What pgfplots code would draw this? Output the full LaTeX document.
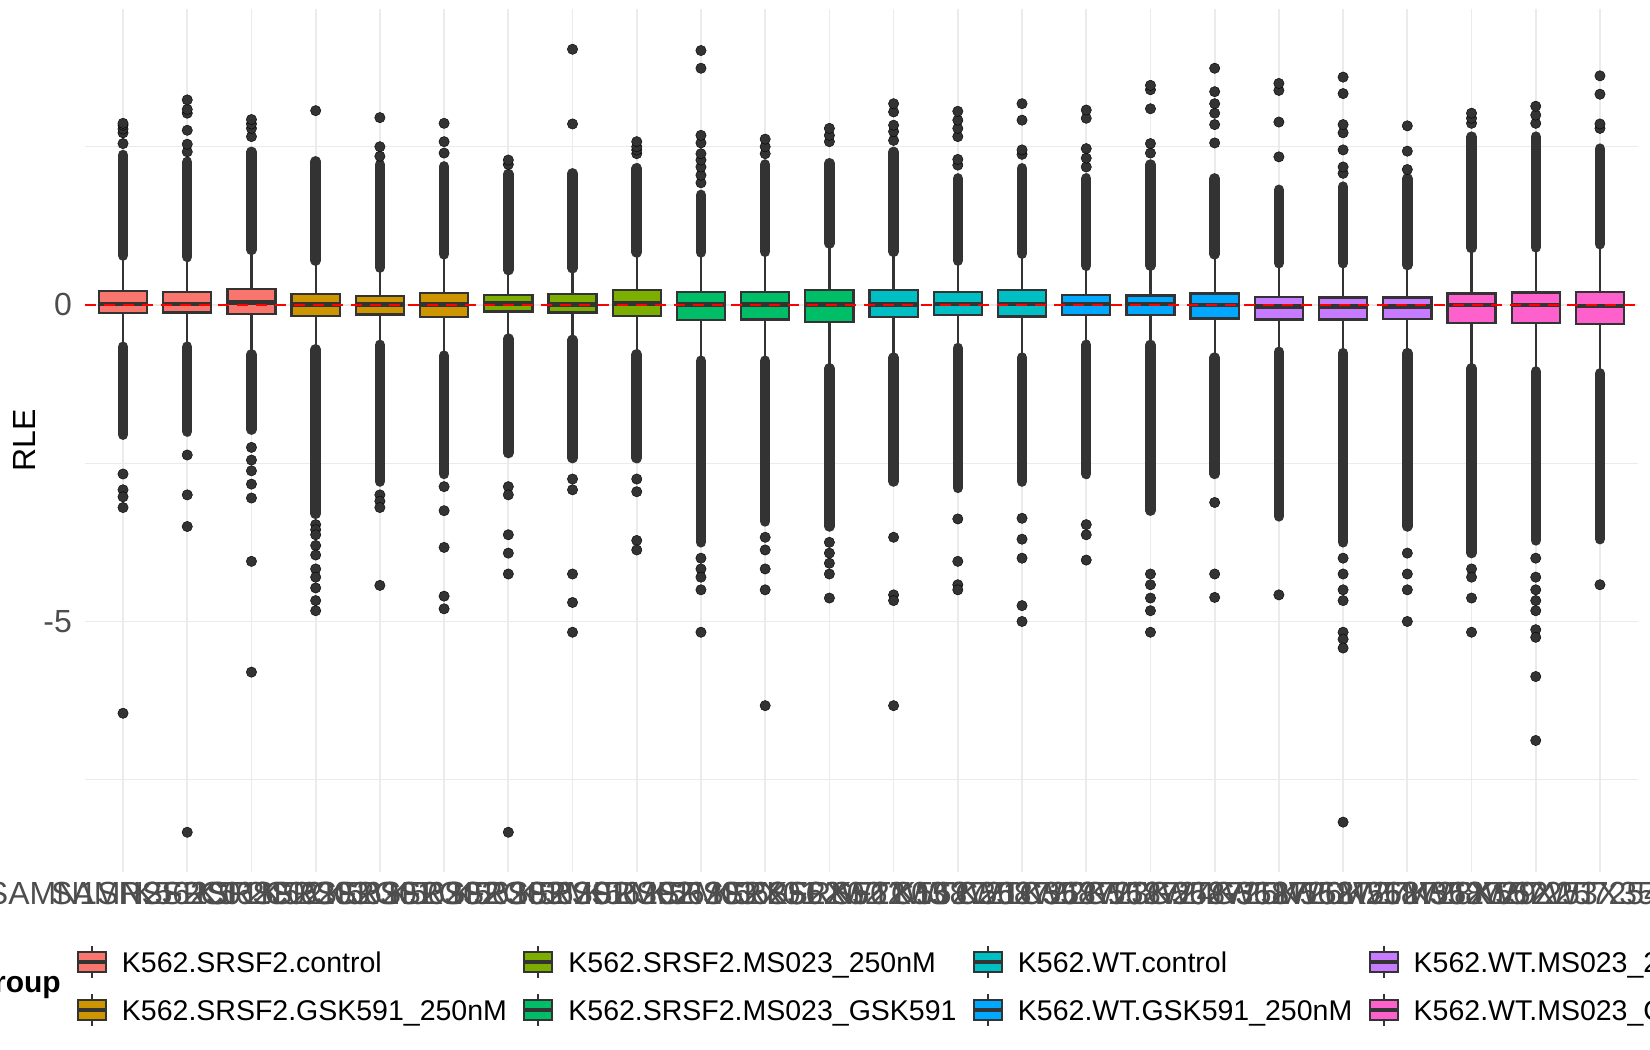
\documentclass[border=0pt]{standalone}
\usepackage{fontspec}
\setmainfont{Liberation Sans}
\usepackage{pgfplots}
\pgfplotsset{compat=1.18}
\definecolor{c333}{HTML}{333333}
\definecolor{cA}{HTML}{F8766D}
\definecolor{cB}{HTML}{CD9600}
\definecolor{cC}{HTML}{7CAE00}
\definecolor{cD}{HTML}{00BE67}
\definecolor{cE}{HTML}{00BFC4}
\definecolor{cF}{HTML}{00A9FF}
\definecolor{cG}{HTML}{C77CFF}
\definecolor{cH}{HTML}{FF61CC}
\definecolor{cgrid}{HTML}{EBEBEB}
\definecolor{cgrey}{HTML}{4D4D4D}
% box: position, left edge, right edge, lower whisker, Q1, median, Q3, upper whisker, colour
\newcommand{\bx}[9]{%
  \addplot[forget plot, draw=c333, line width=2.3bp] coordinates {(#1,#4) (#1,#8)};
  \addplot[forget plot, draw=c333, fill=#9, line width=2.3bp] coordinates {(#2,#5) (#3,#5) (#3,#7) (#2,#7)} -- cycle;
  \addplot[forget plot, draw=c333, line width=4.6bp] coordinates {(#2,#6) (#3,#6)};
}
% dense run of outliers: position, from, to
\newcommand{\dn}[3]{\addplot[forget plot, draw=c333, line width=10.5bp, line cap=round] coordinates {(#1,#2) (#1,#3)};}
\pgfplotsset{keybox/.style={legend image code/.code={
  \draw[draw=c333, line width=2bp] (14bp,-6bp) -- (14bp,26bp);
  \draw[draw=c333, fill=#1, line width=2bp] (0bp,0bp) rectangle (28bp,20bp);
  \draw[draw=c333, line width=3.5bp] (0bp,10bp) -- (28bp,10bp);
  \path (44bp,0bp);
}}}
\begin{document}
\begin{tikzpicture}
\begin{axis}[
  at={(84.5bp,178.5bp)}, anchor=south west,
  width=1554bp, height=862.1bp, scale only axis,
  xmin=0.4, xmax=24.6, ymin=-8.95, ymax=4.67,
  axis line style={draw=none},
  xtick={1,...,24},
  xticklabels={SAMN1SRSF2C01,SAMN2SRSF2C02,K562SRSF2C03,K562SRSF2G01,K562SRSF2G02,K562SRSF2G03,K562SRSF2M01,K562SRSF2M02,K562SRSF2M03,K562SRSF2X01,K562SRSF2X02,K562SRSF2X03,K562WTC158721,K562WTC258722,K562WTC358723,K562WTG158724,K562WTG258725,K562WTG358726,K562WTM158727,K562WTM258728,K562WTM358729,K562WTX157253,K562WTX257254,K562WTX357255},
  ytick={-5,0}, yticklabels={{-5},{0}},
  minor ytick={-7.5,-2.5,2.5},
  xmajorgrids, ymajorgrids, yminorgrids,
  major grid style={draw=cgrid, line width=1.7bp},
  minor grid style={draw=cgrid, line width=0.9bp},
  major tick length=0pt, minor tick length=0pt,
  ticklabel style={font=\fontsize{32bp}{38bp}\selectfont, text=cgrey, inner sep=0pt},
  xticklabel style={anchor=north, yshift=-10.5bp},
  yticklabel style={anchor=east, xshift=-12.5bp},
  ylabel={RLE},
  ylabel style={font=\fontsize{32bp}{38bp}\selectfont, inner sep=0pt, at={(axis description cs:-0.03185,0.5)}, anchor=base},
  legend columns=4,
  legend style={draw=none, fill=none, inner sep=0pt, outer sep=0pt,
    at={(-0.00547,-0.0841)}, anchor=north west,
    font=\fontsize{28.5bp}{34bp}\selectfont,
    nodes={inner sep=0pt, text height=28bp, text depth=20bp},
    cells={anchor=base west}, row sep=0pt, column sep=0pt,
    /tikz/every even column/.append style={column sep=15.5bp}},
]
% ---- dense outlier runs (upper, lower) ----
\dn{1}{0.78}{2.37}   \dn{1}{-0.66}{-2.05}
\dn{2}{0.76}{2.26}   \dn{2}{-0.66}{-2.00}
\dn{3}{0.87}{2.42}   \dn{3}{-0.78}{-1.97}
\dn{4}{0.70}{2.27}   \dn{4}{-0.70}{-3.30}
\dn{5}{0.59}{2.22}   \dn{5}{-0.63}{-2.79}
\dn{6}{0.80}{2.19}   \dn{6}{-0.80}{-2.67}
\dn{7}{0.55}{2.07}   \dn{7}{-0.53}{-2.34}
\dn{8}{0.58}{2.08}   \dn{8}{-0.55}{-2.42}
\dn{9}{0.83}{2.16}   \dn{9}{-0.78}{-2.42}
\dn{10}{0.83}{1.74}  \dn{10}{-0.88}{-3.75}
\dn{11}{0.84}{2.22}  \dn{11}{-0.88}{-3.42}
\dn{12}{0.97}{2.24}  \dn{12}{-1.00}{-3.50}
\dn{13}{0.84}{2.42}  \dn{13}{-0.83}{-2.79}
\dn{14}{0.70}{2.00}  \dn{14}{-0.68}{-2.89}
\dn{15}{0.81}{2.16}  \dn{15}{-0.83}{-2.79}
\dn{16}{0.62}{2.00}  \dn{16}{-0.63}{-2.67}
\dn{17}{0.62}{2.22}  \dn{17}{-0.63}{-3.25}
\dn{18}{0.80}{2.00}  \dn{18}{-0.83}{-2.67}
\dn{19}{0.66}{1.82}  \dn{19}{-0.74}{-3.34}
\dn{20}{0.66}{1.87}  \dn{20}{-0.76}{-3.75}
\dn{21}{0.63}{2.00}  \dn{21}{-0.76}{-3.50}
\dn{22}{0.90}{2.66}  \dn{22}{-1.00}{-3.92}
\dn{23}{0.91}{2.66}  \dn{23}{-1.05}{-3.72}
\dn{24}{0.96}{2.47}  \dn{24}{-1.08}{-3.70}
% ---- single outliers ----
\addplot[forget plot, only marks, mark=*, mark size=5.2bp, mark options={draw=none, fill=c333}] coordinates {
(1,2.55) (1,2.72) (1,2.78) (1,2.84) (1,2.87) (1,-2.67) (1,-2.92) (1,-3.03) (1,-3.2) (1,-6.45)
(2,2.42) (2,2.54) (2,2.76) (2,3.03) (2,3.09) (2,3.24) (2,-2.37) (2,-3.0) (2,-3.5) (2,-8.33)
(3,2.66) (3,2.79) (3,2.86) (3,2.93) (3,-2.25) (3,-2.45) (3,-2.62) (3,-2.83) (3,-3.05) (3,-4.05) (3,-5.8)
(4,3.07) (4,-3.47) (4,-3.55) (4,-3.63) (4,-3.8) (4,-3.95) (4,-4.17) (4,-4.3) (4,-4.47) (4,-4.67) (4,-4.83)
(5,2.35) (5,2.5) (5,2.96) (5,-3.0) (5,-3.1) (5,-3.2) (5,-4.43)
(6,2.4) (6,2.58) (6,2.87) (6,-2.87) (6,-3.25) (6,-3.83) (6,-4.6) (6,-4.8)
(7,2.22) (7,2.29) (7,-2.87) (7,-3.0) (7,-3.63) (7,-3.92) (7,-4.25) (7,-8.33)
(8,2.86) (8,4.04) (8,-2.75) (8,-2.92) (8,-4.25) (8,-4.7) (8,-5.17)
(9,2.39) (9,2.45) (9,2.5) (9,2.58) (9,-2.75) (9,-2.95) (9,-3.72) (9,-3.87)
(10,1.93) (10,2.05) (10,2.18) (10,2.29) (10,2.39) (10,2.56) (10,2.68) (10,3.74) (10,4.02) (10,-4.0) (10,-4.17) (10,-4.3) (10,-4.5) (10,-5.17)
(11,2.39) (11,2.5) (11,2.62) (11,-3.67) (11,-3.87) (11,-4.17) (11,-4.5) (11,-6.33)
(12,2.58) (12,2.68) (12,2.79) (12,-3.75) (12,-3.92) (12,-4.08) (12,-4.25) (12,-4.63)
(13,2.6) (13,2.74) (13,2.84) (13,3.05) (13,3.18) (13,-3.67) (13,-4.58) (13,-4.67) (13,-6.33)
(14,2.21) (14,2.3) (14,2.66) (14,2.79) (14,2.92) (14,3.06) (14,-3.38) (14,-4.05) (14,-4.42) (14,-4.5)
(15,2.38) (15,2.45) (15,2.92) (15,3.18) (15,-3.37) (15,-3.7) (15,-4.0) (15,-4.75) (15,-5.0)
(16,2.18) (16,2.32) (16,2.47) (16,2.95) (16,3.08) (16,-3.47) (16,-3.63) (16,-4.03)
(17,2.4) (17,2.55) (17,3.1) (17,3.4) (17,3.47) (17,-4.25) (17,-4.42) (17,-4.63) (17,-4.83) (17,-5.17)
(18,2.56) (18,2.85) (18,3.03) (18,3.18) (18,3.37) (18,3.74) (18,-3.12) (18,-4.25) (18,-4.62)
(19,2.34) (19,2.89) (19,3.39) (19,3.5) (19,-4.58)
(20,2.08) (20,2.18) (20,2.45) (20,2.72) (20,2.85) (20,3.34) (20,3.6) (20,-4.0) (20,-4.25) (20,-4.5) (20,-4.67) (20,-5.17) (20,-5.28) (20,-5.42) (20,-8.17)
(21,2.14) (21,2.43) (21,2.83) (21,-3.92) (21,-4.25) (21,-4.5) (21,-5.0)
(22,2.87) (22,2.95) (22,3.03) (22,-4.17) (22,-4.3) (22,-4.63) (22,-5.17)
(23,2.87) (23,3.0) (23,3.14) (23,-4.0) (23,-4.3) (23,-4.5) (23,-4.67) (23,-4.83) (23,-5.13) (23,-5.25) (23,-5.87) (23,-6.88)
(24,2.79) (24,2.86) (24,3.33) (24,3.62) (24,-4.42)
};
% ---- boxes: position, left, right, lower whisker, Q1, median, Q3, upper whisker ----
\bx{1}{0.625}{1.375}{-0.62}{-0.13}{0.016}{0.22}{0.74}{cA}
\bx{2}{1.625}{2.375}{-0.62}{-0.12}{0.016}{0.21}{0.72}{cA}
\bx{3}{2.625}{3.375}{-0.74}{-0.14}{0.037}{0.25}{0.83}{cA}
\bx{4}{3.625}{4.375}{-0.66}{-0.17}{0.005}{0.17}{0.66}{cB}
\bx{5}{4.625}{5.375}{-0.59}{-0.15}{0.005}{0.14}{0.55}{cB}
\bx{6}{5.625}{6.375}{-0.76}{-0.19}{0.005}{0.19}{0.76}{cB}
\bx{7}{6.625}{7.375}{-0.49}{-0.105}{0.02}{0.16}{0.51}{cC}
\bx{8}{7.625}{8.375}{-0.51}{-0.12}{0.01}{0.17}{0.54}{cC}
\bx{9}{8.625}{9.375}{-0.74}{-0.17}{0.026}{0.24}{0.79}{cC}
\bx{10}{9.625}{10.375}{-0.84}{-0.24}{0.005}{0.20}{0.79}{cD}
\bx{11}{10.625}{11.375}{-0.84}{-0.23}{0.005}{0.20}{0.80}{cD}
\bx{12}{11.625}{12.375}{-0.96}{-0.27}{0.005}{0.24}{0.93}{cD}
\bx{13}{12.625}{13.375}{-0.79}{-0.195}{0.01}{0.24}{0.80}{cE}
\bx{14}{13.625}{14.375}{-0.64}{-0.16}{0.016}{0.20}{0.66}{cE}
\bx{15}{14.625}{15.375}{-0.79}{-0.18}{0.016}{0.24}{0.77}{cE}
\bx{16}{15.625}{16.375}{-0.59}{-0.16}{0.016}{0.16}{0.58}{cF}
\bx{17}{16.625}{17.375}{-0.59}{-0.16}{0.016}{0.15}{0.58}{cF}
\bx{18}{17.625}{18.375}{-0.79}{-0.215}{0.0}{0.18}{0.76}{cF}
\bx{19}{18.625}{19.375}{-0.70}{-0.23}{-0.026}{0.13}{0.62}{cG}
\bx{20}{19.625}{20.375}{-0.72}{-0.23}{-0.026}{0.12}{0.62}{cG}
\bx{21}{20.625}{21.375}{-0.72}{-0.22}{-0.026}{0.116}{0.59}{cG}
\bx{22}{21.625}{22.375}{-0.96}{-0.28}{0.0}{0.18}{0.86}{cH}
\bx{23}{22.625}{23.375}{-1.01}{-0.28}{0.0}{0.195}{0.87}{cH}
\bx{24}{23.625}{24.375}{-1.04}{-0.30}{-0.016}{0.205}{0.92}{cH}
% ---- reference line ----
\addplot[forget plot, draw=red, line width=2.8bp, dash pattern=on 11bp off 8bp] coordinates {(0.4,0) (24.6,0)};
% ---- legend ----
\addlegendimage{keybox=cA}\addlegendentry{K562.SRSF2.control}
\addlegendimage{keybox=cC}\addlegendentry{K562.SRSF2.MS023\_250nM}
\addlegendimage{keybox=cE}\addlegendentry{K562.WT.control}
\addlegendimage{keybox=cG}\addlegendentry{K562.WT.MS023\_250nM}
\addlegendimage{keybox=cB}\addlegendentry{K562.SRSF2.GSK591\_250nM}
\addlegendimage{keybox=cD}\addlegendentry{K562.SRSF2.MS023\_GSK591}
\addlegendimage{keybox=cF}\addlegendentry{K562.WT.GSK591\_250nM}
\addlegendimage{keybox=cH}\addlegendentry{K562.WT.MS023\_GSK591}
\end{axis}
\node[font=\bfseries\fontsize{30bp}{36bp}\selectfont, anchor=base east, inner sep=0pt] at (61bp,57bp) {Group};
\pgfresetboundingbox
\path (0bp,0bp) rectangle (1650bp,1050bp);
\end{tikzpicture}
\end{document}
